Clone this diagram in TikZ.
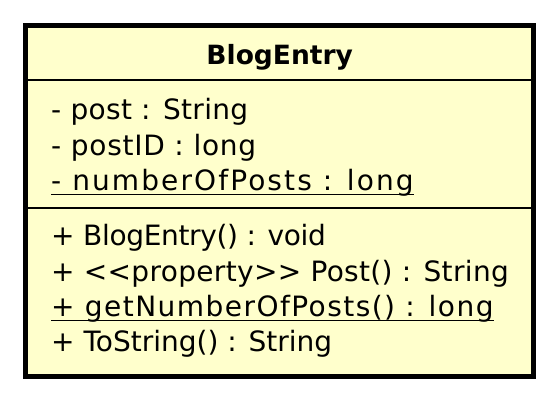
\documentclass[tikz,border=0pt]{standalone}
\usepackage{fontspec}
\setmainfont{DejaVu Sans}
\definecolor{umlfill}{HTML}{FFFFCC}
\begin{document}
\begin{tikzpicture}[x=1pt,y=-1pt,
  member/.style={anchor=base west,inner sep=0pt,font=\fontsize{28}{34}\selectfont\addfontfeature{LetterSpace=#1}},
  member/.default=0,
  title/.style={anchor=base,inner sep=0pt,font=\fontsize{26.5}{32}\selectfont\bfseries},
  uline/.style={line width=1.6pt}]
\useasboundingbox (0,0) rectangle (558,401);
\draw[line width=5pt,fill=umlfill] (25.5,25.8) rectangle (533.5,377);
\draw[line width=2pt] (25.5,80.3) -- (533.5,80.3);
\draw[line width=2pt] (25.5,208) -- (533.5,208);
\node[title] (name) at (279.7,64.3) {BlogEntry};
\node[member=1.2] (a1) at (51,120) {- post : String};
\node[member=2.6] (a2) at (51,156) {- postID : long};
\node[member=7.5] (a3) at (51,191) {- numberOfPosts : long};
\node[member=-1.2] (m1) at (51,245.7) {+ BlogEntry() : void};
\node[member=1.2] (m2) at (51,281.5) {+ <{}<property>{}> Post() : String};
\node[member=5.2] (m3) at (51,317) {+ getNumberOfPosts() : long};
\node[member=0] (m4) at (51,352) {+ ToString() : String};
\draw[uline] ([yshift=-3.5pt]a3.base west) -- ([yshift=-3.5pt]a3.base east);
\draw[uline] ([yshift=-3.5pt]m3.base west) -- ([yshift=-3.5pt]m3.base east);
\end{tikzpicture}
\end{document}
